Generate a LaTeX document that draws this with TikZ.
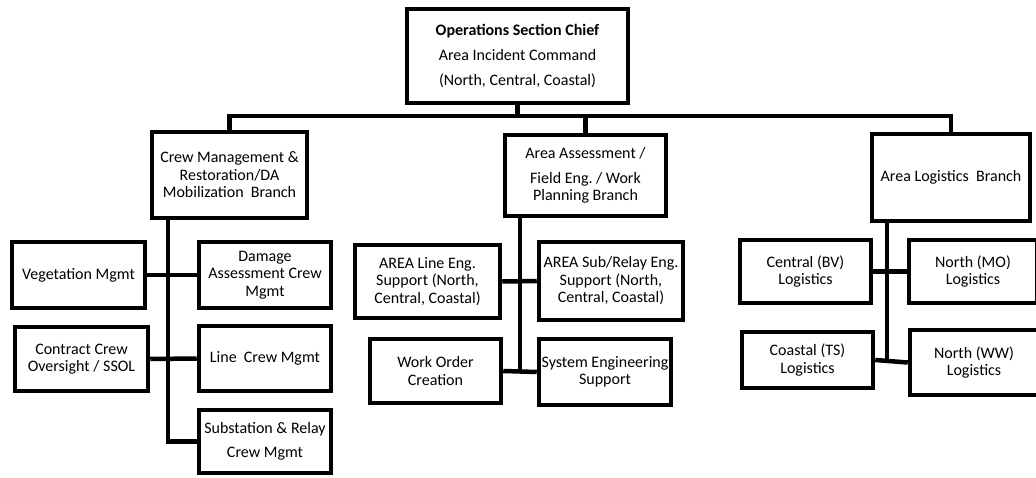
\documentclass[tikz,border=0pt]{standalone}
\usepackage{fontspec}
\setmainfont{Carlito}
\frenchspacing
\begin{document}
\begin{tikzpicture}[x=1pt,y=-1pt,
  box/.style={draw=black,line width=4.5pt,fill=white,inner sep=0pt,align=center,
    font=\fontsize{16}{17.5}\selectfont},
  conn/.style={draw=black,line width=4.5pt}]
\useasboundingbox (0,0) rectangle (1036,478);
\clip (0,0) rectangle (1036,478);
% nodes
\node[box,minimum width=221,minimum height=94,font=\fontsize{16}{25}\selectfont] (top) at (517.5,56)
  {\textbf{Operations Section Chief}\\Area Incident Command\\(North, Central, Coastal)};
\node[box,minimum width=155,minimum height=86] (b1) at (229.5,175)
  {Crew Management \&\\Restoration/DA\\Mobilization\ \ Branch};
\node[box,minimum width=161,minimum height=81] (b2) at (585.5,175.5)
  {Area Assessment /\\[7pt]Field Eng. / Work\\Planning Branch};
\node[box,minimum width=158,minimum height=87] (b3) at (951,177.5)
  {Area Logistics\ \ Branch};
% branch 1 children
\node[box,minimum width=133,minimum height=66] (veg) at (78.5,275) {Vegetation Mgmt};
\node[box,minimum width=132,minimum height=66] (dam) at (265,275) {Damage\\Assessment Crew\\Mgmt};
\node[box,minimum width=133,minimum height=64] (con) at (81.5,359) {Contract Crew\\Oversight / SSOL};
\node[box,minimum width=132,minimum height=65] (lin) at (265,358.5) {Line\ \ Crew Mgmt};
\node[box,minimum width=132,minimum height=63] (sub) at (265,441.5) {Substation \& Relay\\[6pt]Crew Mgmt};
% branch 2 children
\node[box,minimum width=145,minimum height=73] (aline) at (427.5,281.5) {AREA Line Eng.\\Support (North,\\Central, Coastal)};
\node[box,minimum width=144,minimum height=78] (asub) at (611,281) {AREA Sub/Relay Eng.\\Support (North,\\Central, Coastal)};
\node[box,minimum width=131,minimum height=64] (wo) at (435.5,371) {Work Order\\Creation};
\node[box,minimum width=132,minimum height=66] (se) at (605,372) {System Engineering\\Support};
% branch 3 children
\node[box,minimum width=131,minimum height=63] (bv) at (805.5,271.5) {Central (BV)\\Logistics};
\node[box,minimum width=128,minimum height=63] (mo) at (973,271.5) {North (MO)\\Logistics};
\node[box,minimum width=131,minimum height=56] (ts) at (807.5,360) {Coastal (TS)\\Logistics};
\node[box,minimum width=128,minimum height=65] (ww) at (974,362.5) {North (WW)\\Logistics};
% connectors
\coordinate (bus) at (0,116);
\coordinate (s1) at (168,0);
\coordinate (s2) at (520,0);
\coordinate (s3) at (887,0);
\draw[conn] (top.south) -- (top.south |- bus);
\draw[conn] (b1.north) -- (b1.north |- bus) -- (b3.north |- bus) -- (b3.north);
\draw[conn] (b2.north) -- (b2.north |- bus);
\draw[conn] (b1.south -| s1) -- (s1 |- sub.west) -- (sub.west);
\draw[conn] (veg.east) -- (dam.west);
\draw[conn] (con.east) -- (lin.west);
\draw[conn] (b2.south -| s2) -- (s2 |- wo.east);
\draw[conn] (aline.east) -- (asub.west);
\draw[conn] (wo.east) -- (se.west);
\draw[conn] (b3.south -| s3) -- (s3 |- ts.east);
\draw[conn] (bv.east) -- (mo.west);
\draw[conn] (ts.east) -- (ww.west);
\end{tikzpicture}
\end{document}
